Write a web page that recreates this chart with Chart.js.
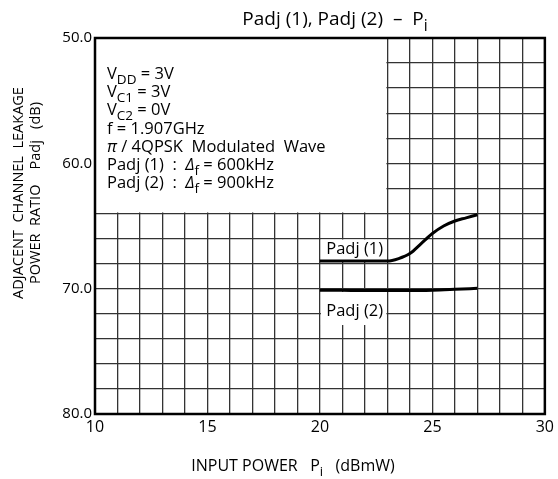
<!DOCTYPE html>
<html>
<head>
<meta charset="utf-8">
<script src="https://cdn.jsdelivr.net/npm/chart.js@4"></script>
<style>
  body { margin: 0; background: #fff; }
  canvas { display: block; }
</style>
</head>
<body>
<canvas id="graf" width="558" height="479"></canvas>
<script>
// Padj(1), Padj(2) vs Pi
const pin1 = [20, 21, 22, 23, 23.5, 24, 24.5, 25, 25.5, 26, 26.5, 27];
const padj1 = [67.8, 67.8, 67.8, 67.8, 67.6, 67.2, 66.4, 65.6, 65.0, 64.6, 64.35, 64.1];
const pin2 = [20, 21, 22, 23, 24, 25, 26, 27];
const padj2 = [70.12, 70.13, 70.15, 70.15, 70.15, 70.12, 70.05, 69.97];

const xTicks = [10, 15, 20, 25, 30];
const yTicks = [50, 60, 70, 80];

const condiciones = [
  [{ t: 'V' }, { t: 'DD', sub: true }, { t: ' = 3V' }],
  [{ t: 'V' }, { t: 'C1', sub: true }, { t: ' = 3V' }],
  [{ t: 'V' }, { t: 'C2', sub: true }, { t: ' = 0V' }],
  [{ t: 'f = 1.907GHz' }],
  [{ t: 'π', it: true }, { t: ' / 4QPSK  Modulated  Wave' }],
  [{ t: 'Padj (1)  :  ' }, { t: 'Δ', it: true }, { t: 'f', sub: true }, { t: ' = 600kHz' }],
  [{ t: 'Padj (2)  :  ' }, { t: 'Δ', it: true }, { t: 'f', sub: true }, { t: ' = 900kHz' }]
];

const FONT = '"Open Sans", "DejaVu Sans", sans-serif';

// texto con subíndices
function drawRich (ctx, parts, x, y, size, align) {
  const f = (p) => (p.it ? 'italic ' : '') + (p.sub ? size * 0.82 : size) + 'px ' + FONT;
  let total = 0;
  parts.forEach(p => { ctx.font = f(p); total += ctx.measureText(p.t).width; });
  let cx = align === 'center' ? x - total / 2 : x;
  ctx.textAlign = 'left';
  ctx.textBaseline = 'alphabetic';
  parts.forEach(p => {
    ctx.font = f(p);
    ctx.fillText(p.t, cx, p.sub ? y + size * 0.3 : y);
    cx += ctx.measureText(p.t).width;
  });
}

const adornos = {
  id: 'adornos',
  beforeDatasetsDraw (chart) {
    const { ctx } = chart;
    const xs = chart.scales.x, ys = chart.scales.y;
    const rect = (x0, x1, y0, y1, a, b, c, d) => {
      const l = xs.getPixelForValue(x0) + a, r = xs.getPixelForValue(x1) - b;
      const t = ys.getPixelForValue(y0) + c, bt = ys.getPixelForValue(y1) - d;
      ctx.fillRect(l, t, r - l, bt - t);
    };
    ctx.save();
    ctx.fillStyle = '#fff';
    rect(10, 23, 50, 64, 1, 1, 1, 1);
    rect(20, 23, 66, 67.8, 1, 1, 1, 1);
    rect(20, 23, 70.1, 72.9, 1, 1, 2, 0);
    ctx.restore();
  },
  afterDatasetsDraw (chart) {
    const { ctx, chartArea: a } = chart;
    const xs = chart.scales.x;
    ctx.save();
    ctx.strokeStyle = '#000';
    ctx.lineWidth = 2.5;
    ctx.strokeRect(a.left, a.top, a.right - a.left, a.bottom - a.top);

    ctx.fillStyle = '#000';
    condiciones.forEach((linea, i) => drawRich(ctx, linea, 107, 79 + i * 18.2, 16.5));

    const lx = (xs.getPixelForValue(20) + xs.getPixelForValue(23)) / 2;
    drawRich(ctx, [{ t: 'Padj (1)' }], lx + 1, 254, 16.5, 'center');
    drawRich(ctx, [{ t: 'Padj (2)' }], lx + 1, 316, 16.5, 'center');

    // título
    drawRich(ctx, [{ t: 'Padj (1), Padj (2)  –  P' }, { t: 'i', sub: true }], 335, 25, 19, 'center');

    // eje x
    drawRich(ctx, [{ t: 'INPUT POWER   P' }, { t: 'i', sub: true }, { t: '   (dBmW)' }], 293, 471, 16, 'center');

    // eje y
    ctx.rotate(-Math.PI / 2);
    drawRich(ctx, [{ t: 'ADJACENT  CHANNEL  LEAKAGE' }], -193, 23, 14.5, 'center');
    drawRich(ctx, [{ t: 'POWER  RATIO    Padj   (dB)' }], -193, 40, 14.5, 'center');
    ctx.restore();
  }
};

new Chart(document.getElementById('graf'), {
  type: 'scatter',
  data: {
    datasets: [
      { label: 'Padj (1)', data: pin1.map((x, i) => ({ x, y: padj1[i] })) },
      { label: 'Padj (2)', data: pin2.map((x, i) => ({ x, y: padj2[i] })) }
    ]
  },
  options: {
    responsive: false,
    animation: false,
    showLine: true,
    layout: { padding: { left: 0, top: 38, right: 12, bottom: 0 } },
    elements: {
      point: { radius: 0 },
      line: { borderColor: '#000', borderWidth: 3, tension: 0.4, cubicInterpolationMode: 'monotone' }
    },
    plugins: { legend: { display: false }, tooltip: { enabled: false } },
    scales: {
      x: {
        type: 'linear', min: 10, max: 30,
        afterFit: s => { s.height = 65; },
        afterBuildTicks: s => { s.ticks = []; for (let v = 10; v <= 30; v++) s.ticks.push({ value: v }); },
        ticks: {
          padding: 4, color: '#000', maxRotation: 0, autoSkip: false,
          font: { family: FONT, size: 16 },
          callback: v => xTicks.includes(v) ? String(v) : ''
        },
        grid: { color: '#333', lineWidth: 1.3, drawTicks: false },
        border: { display: false }
      },
      y: {
        type: 'linear', min: 50, max: 80, reverse: true,
        afterFit: s => { s.width = 95; },
        afterBuildTicks: s => { s.ticks = []; for (let v = 50; v <= 80; v += 2) s.ticks.push({ value: v }); },
        ticks: {
          padding: 3, color: '#000', autoSkip: false,
          font: { family: FONT, size: 15 },
          callback: v => yTicks.includes(v) ? v.toFixed(1) : ''
        },
        grid: { color: '#333', lineWidth: 1.3, drawTicks: false },
        border: { display: false }
      }
    }
  },
  plugins: [adornos]
});
</script>
</body>
</html>
